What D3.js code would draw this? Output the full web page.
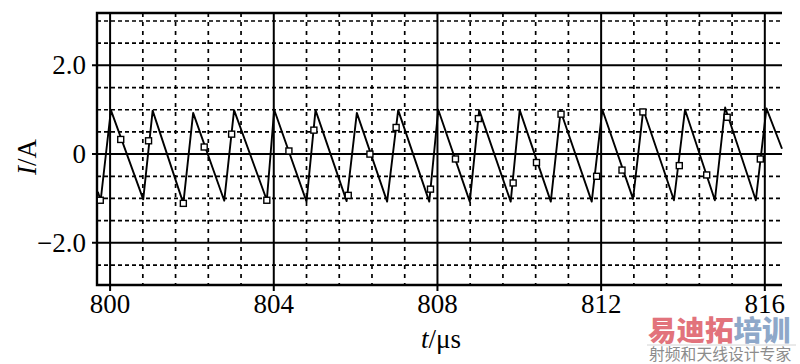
<!DOCTYPE html>
<html>
<head>
<meta charset="utf-8">
<script src="https://cdn.jsdelivr.net/npm/d3@7"></script>
<style>
  body { margin: 0; background: #fff; }
  svg { display: block; }
  text { font-family: "Liberation Serif", "Times New Roman", serif; fill: #000; }
</style>
</head>
<body>
<svg id="chart" width="800" height="364"></svg>
<script>
// peaks and troughs of the current waveform (t in µs, I in A)
let peakT = [800.02, 801.04, 802.03, 803.03, 804.01, 805.02, 806.03, 807.04, 808.02, 809.02, 810.01, 811.01, 812.03, 813.03, 814.05, 815.03, 816.04]
let peakV = [0.99, 0.98, 0.93, 0.99, 1.0, 0.99, 0.93, 0.99, 1.0, 0.99, 0.99, 0.97, 1.0, 1.0, 1.0, 1.05, 1.03]
let troughT = [799.77, 800.81, 801.79, 802.79, 803.83, 804.80, 805.78, 806.77, 807.80, 808.79, 809.79, 810.77, 811.77, 812.78, 813.78, 814.78, 815.78]
let troughV = [-1.04, -1.02, -1.11, -1.05, -1.04, -1.07, -1.06, -1.07, -1.07, -1.07, -1.07, -1.07, -1.07, -1.01, -1.04, -1.04, -1.04]
let startPoint = [799.70, -0.85]
let endPoint = [816.42, 0.12]

// square markers on the curve
let markT = [799.76, 800.26, 800.94, 801.79, 802.30, 802.97, 803.83, 804.37, 804.98, 805.82, 806.35, 806.99, 807.83, 808.44, 809.0, 809.85, 810.42, 811.02, 811.89, 812.51, 813.02, 813.91, 814.58, 815.08, 815.89]
let markV = [-1.04, 0.33, 0.30, -1.11, 0.16, 0.45, -1.04, 0.07, 0.54, -0.93, 0.0, 0.60, -0.79, -0.11, 0.80, -0.65, -0.19, 0.90, -0.50, -0.36, 0.95, -0.26, -0.47, 0.83, -0.11]

let xMajor = [800, 804, 808, 812, 816]
let xMinor = [800.8, 801.6, 802.4, 803.2, 804.8, 805.6, 806.4, 807.2, 808.8, 809.6, 810.4, 811.2, 812.8, 813.6, 814.4, 815.2]
let yMajor = [-2, 0, 2]
let yMinor = [-2.5, -1.5, -1.0, -0.5, 0.5, 1.0, 1.5, 2.5, 3.0]
let yLabels = ['\u22122.0', '0', '2.0']

let svg = d3.select('#chart')
let plotL = 97, plotR = 782, plotT = 13, plotB = 285

let x = d3.scaleLinear().domain([799.68, 816.42]).range([plotL, plotR])
let y = d3.scaleLinear().domain([-2.95, 3.18]).range([plotB, plotT])

// dotted grid
svg.append('g').selectAll('line')
  .data(yMinor)
  .enter()
  .append('line')
  .attr('x1', plotL).attr('x2', plotR)
  .attr('y1', (d) => y(d)).attr('y2', (d) => y(d))
  .attr('stroke', '#000').attr('stroke-width', 1.7)
  .attr('stroke-dasharray', '4,3')

svg.append('g').selectAll('line')
  .data(xMinor)
  .enter()
  .append('line')
  .attr('x1', (d) => x(d)).attr('x2', (d) => x(d))
  .attr('y1', plotT).attr('y2', plotB)
  .attr('stroke', '#000').attr('stroke-width', 1.7)
  .attr('stroke-dasharray', '4,5')

// solid major lines
svg.append('g').selectAll('line')
  .data(yMajor)
  .enter()
  .append('line')
  .attr('x1', plotL - 5).attr('x2', plotR)
  .attr('y1', (d) => y(d)).attr('y2', (d) => y(d))
  .attr('stroke', '#000').attr('stroke-width', 2)

svg.append('g').selectAll('line')
  .data(xMajor)
  .enter()
  .append('line')
  .attr('x1', (d) => x(d)).attr('x2', (d) => x(d))
  .attr('y1', plotT).attr('y2', plotB + 6)
  .attr('stroke', '#000').attr('stroke-width', 2)

// frame
svg.append('path')
  .attr('d', `M${plotR},${plotT}H${plotL}V${plotB}H${plotR}`)
  .attr('fill', 'none')
  .attr('stroke', '#000')
  .attr('stroke-width', 2.4)

// tick labels
svg.append('g').selectAll('text')
  .data(xMajor)
  .enter()
  .append('text')
  .attr('x', (d) => x(d))
  .attr('y', 313)
  .attr('text-anchor', 'middle')
  .style('font-size', '27px')
  .text((d) => d)

svg.append('g').selectAll('text')
  .data(yMajor)
  .enter()
  .append('text')
  .attr('x', 86)
  .attr('y', (d) => y(d) + 9)
  .attr('text-anchor', 'end')
  .style('font-size', '27px')
  .text((d, i) => yLabels[i])

// axis titles
let yTitle = svg.append('text')
  .attr('transform', 'translate(36,157) rotate(-90)')
  .attr('text-anchor', 'middle')
  .style('font-size', '27px')
yTitle.append('tspan').style('font-style', 'italic').text('I')
yTitle.append('tspan').text('/A')

let xTitle = svg.append('text')
  .attr('x', 441)
  .attr('y', 348)
  .attr('text-anchor', 'middle')
  .style('font-size', '27px')
xTitle.append('tspan').style('font-style', 'italic').text('t')
xTitle.append('tspan').text('/\u03bcs')

// waveform
let points = [startPoint]
troughT.forEach((t, i) => {
  points.push([t, troughV[i]])
  if (i < peakT.length) points.push([peakT[i], peakV[i]])
})
points.push(endPoint)

let line = d3.line()
  .x((d) => x(d[0]))
  .y((d) => y(d[1]))

svg.append('path')
  .datum(points)
  .attr('d', line)
  .attr('fill', 'none')
  .attr('stroke', '#000')
  .attr('stroke-width', 1.9)
  .attr('stroke-linejoin', 'round')

svg.append('g').selectAll('rect')
  .data(markT)
  .enter()
  .append('rect')
  .attr('x', (d) => x(d) - 3)
  .attr('y', (d, i) => y(markV[i]) - 3)
  .attr('width', 6)
  .attr('height', 6)
  .attr('fill', '#fff')
  .attr('stroke', '#000')
  .attr('stroke-width', 1.4)

// watermark (one text block, two lines)
svg.append('line')
  .attr('x1', 647).attr('x2', 796)
  .attr('y1', 345).attr('y2', 345)
  .attr('stroke', '#d4d4d4').attr('stroke-width', 1)

let mark = svg.append('text')
  .attr('x', 648)
  .attr('y', 341)
  .style('font-family', '"Noto Sans CJK SC", sans-serif')
mark.append('tspan').style('fill', '#e2737c').style('font-weight', 900).style('font-size', '28.5px').text('易迪拓')
mark.append('tspan').style('fill', '#8ea8c9').style('font-weight', 900).style('font-size', '28.5px').text('培训')
mark.append('tspan')
  .attr('x', 649)
  .attr('y', 360)
  .style('font-size', '15.8px')
  .style('fill', '#8c8c8c')
  .text('射频和天线设计专家')
</script>
</body>
</html>
